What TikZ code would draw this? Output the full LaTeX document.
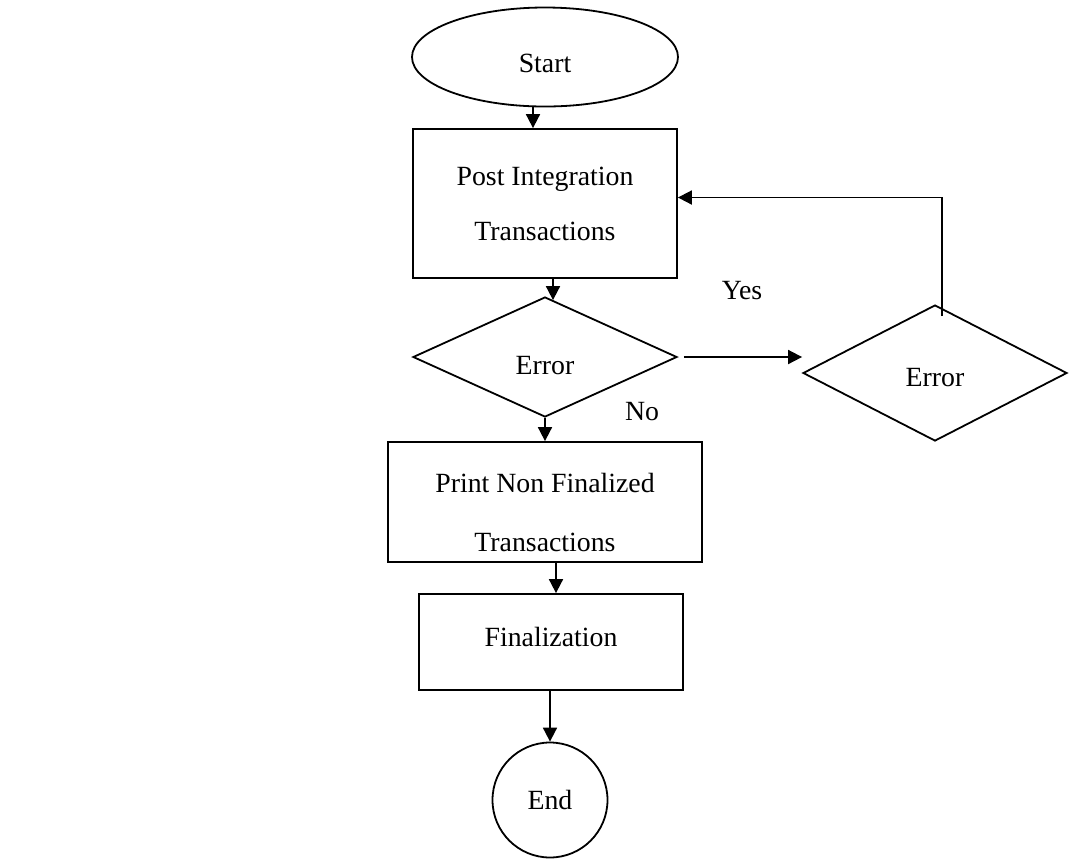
\documentclass[tikz,border=0pt]{standalone}
\usepackage{fontspec}
\setmainfont{Liberation Serif}
\usetikzlibrary{arrows.meta, shapes.geometric, positioning, calc}

\begin{document}
\begin{tikzpicture}[x=0.5pt, y=-0.5pt,
    every node/.style={font=\fontsize{13.9}{27.5}\selectfont},
    procbox/.style={draw, line width=0.9pt, rectangle, align=center, inner sep=0pt},
    decision/.style={draw, line width=0.9pt, diamond, inner sep=0pt, text depth=0pt},
    arr/.style={-{Triangle[length=7pt, width=7pt]}, line width=0.9pt}]
            \useasboundingbox (0,0) rectangle (1078,859);
            \node[ellipse, draw, line width=0.9pt, minimum width=133pt, minimum height=49.5pt, inner sep=0pt, text height=15.5pt, text depth=0pt] (start) at (545,57) {Start};
            \node[procbox, minimum width=132pt, minimum height=74.5pt] (post) at (545,203.5) {Post Integration\\Transactions};
            \node[decision, minimum width=132pt, minimum height=60pt, text height=17.5pt] (err) at (545,357) {Error};
            \node[decision, minimum width=132pt, minimum height=68pt, text height=13.5pt] (err2) at (935,373) {Error};
            \node[procbox, minimum width=157pt, minimum height=60pt, font=\fontsize{13.9}{29.5}\selectfont] (print) at (545,502) {\rule{0pt}{20pt}Print Non Finalized\\Transactions};
            \node[procbox, minimum width=132pt, minimum height=48pt, text height=9.5pt, text depth=5pt] (final) at (551,642) {Finalization};
            \node[circle, draw, line width=0.9pt, minimum size=57.5pt, inner sep=0pt] (end) at (550,800) {End};
            \node (yes) at (742,291) {Yes};
            \node (no) at (642,412) {No};
            \draw[arr] ([xshift=-6pt]start.south) -- ([xshift=-6pt]post.north);
            \draw[arr] ([xshift=4pt]post.south) -- ([xshift=4pt, yshift=-2pt]err.north);
            \draw[arr] ([xshift=3pt]err.east) -- (err.east -| err2.west);
            \draw[arr] ([xshift=3.5pt, yshift=-6pt]err2.north) |- ([yshift=3pt]post.east);
            \draw[arr] (err.south) -- (print.north);
            \draw[arr] ([xshift=5.5pt]print.south) -- ([xshift=5.5pt]print.south |- final.north);
            \draw[arr] (end.north |- final.south) -- (end.north);
        \end{tikzpicture}
\end{document}
